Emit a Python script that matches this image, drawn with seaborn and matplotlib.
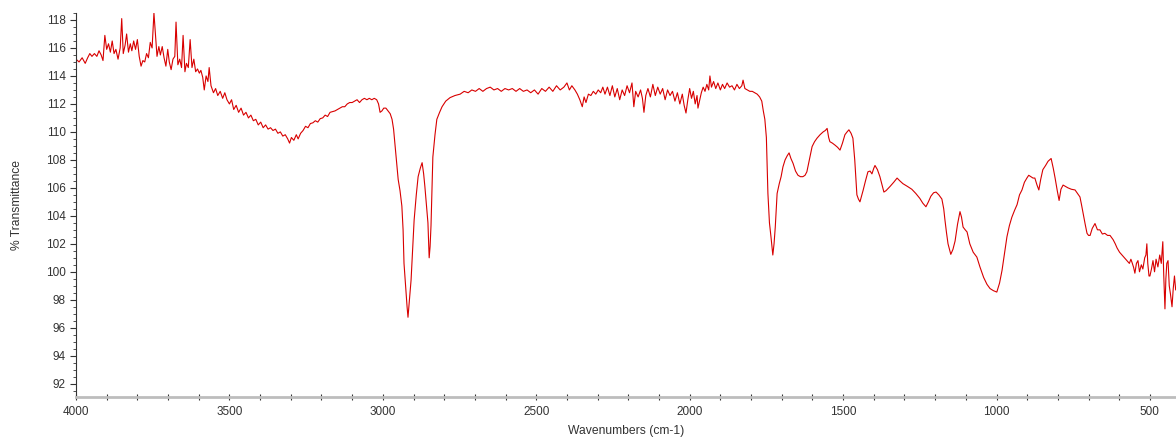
import numpy as np
import pandas as pd
import matplotlib
matplotlib.use("Agg")
import matplotlib.pyplot as plt
from matplotlib.ticker import MultipleLocator
import seaborn as sns

# IR spectrum, values
wavenumber = [
    4000, 3990, 3980, 3970, 3962, 3955, 3948, 3940, 3932, 3925, 3918, 3912, 3906, 3900,
    3894, 3888, 3882, 3876, 3870, 3863, 3856, 3851, 3846, 3840, 3835, 3829, 3823, 3818,
    3812, 3806, 3800, 3794, 3788, 3782, 3776, 3770, 3764, 3758, 3752, 3746, 3741, 3736,
    3730, 3725, 3719, 3713, 3707, 3701, 3696, 3690, 3684, 3678, 3674, 3668, 3662, 3656,
    3651, 3645, 3640, 3634, 3628, 3622, 3616, 3610, 3604, 3598, 3593, 3587, 3582, 3576,
    3570, 3566, 3560, 3552, 3545, 3538, 3530, 3522, 3515, 3508, 3500, 3493, 3486, 3478,
    3470, 3462, 3454, 3446, 3438, 3430, 3422, 3414, 3406, 3398, 3390, 3382, 3374, 3366,
    3358, 3350, 3342, 3334, 3326, 3318, 3310, 3304, 3298, 3290, 3282, 3276, 3268, 3260,
    3252, 3244, 3236, 3228, 3220, 3212, 3204, 3196, 3188, 3180, 3172, 3164, 3156, 3148,
    3140, 3132, 3124, 3116, 3108, 3100, 3092, 3084, 3076, 3068, 3060, 3052, 3044, 3036,
    3028, 3020, 3014, 3009, 3003, 2997, 2990, 2983, 2976, 2970, 2965, 2960, 2955, 2950,
    2944, 2938, 2934, 2931, 2926, 2921, 2918, 2914, 2908, 2903, 2898, 2891, 2885, 2878,
    2872, 2867, 2863, 2858, 2853, 2849, 2846, 2843, 2840, 2837, 2830, 2824, 2815, 2807,
    2795, 2781, 2765, 2748, 2735, 2722, 2710, 2698, 2686, 2674, 2662, 2650, 2638, 2626,
    2614, 2602, 2590, 2578, 2566, 2554, 2542, 2530, 2518, 2506, 2494, 2482, 2470, 2458,
    2446, 2434, 2422, 2410, 2400, 2392, 2384, 2374, 2366, 2358, 2350, 2344, 2338, 2330,
    2322, 2314, 2306, 2298, 2290, 2283, 2276, 2268, 2260, 2252, 2244, 2236, 2228, 2220,
    2212, 2204, 2196, 2188, 2182, 2176, 2168, 2160, 2154, 2149, 2143, 2136, 2128, 2120,
    2112, 2104, 2096, 2088, 2080, 2072, 2064, 2056, 2048, 2040, 2032, 2024, 2018, 2012,
    2006, 2000, 1994, 1988, 1982, 1976, 1973, 1968, 1962, 1956, 1950, 1944, 1938, 1934,
    1929, 1922, 1915, 1908, 1900, 1893, 1886, 1878, 1870, 1862, 1854, 1846, 1838, 1830,
    1826, 1820, 1812, 1804, 1796, 1788, 1780, 1772, 1765, 1760, 1755, 1750, 1745, 1740,
    1735, 1729, 1725, 1721, 1715, 1708, 1702, 1696, 1689, 1682, 1676, 1670, 1663, 1655,
    1647, 1639, 1631, 1624, 1618, 1610, 1601, 1593, 1585, 1575, 1565, 1558, 1552, 1547,
    1543, 1535, 1526, 1518, 1510, 1502, 1494, 1487, 1481, 1474, 1468, 1462, 1455, 1450,
    1445, 1440, 1435, 1427, 1419, 1412, 1406, 1400, 1396, 1388, 1380, 1373, 1367, 1360,
    1347, 1335, 1324, 1315, 1305, 1290, 1276, 1263, 1250, 1240, 1230, 1222, 1214, 1205,
    1197, 1188, 1178, 1172, 1168, 1163, 1158, 1149, 1142, 1135, 1127, 1119, 1114, 1109,
    1102, 1096, 1087, 1076, 1064, 1054, 1042, 1031, 1021, 1010, 999, 990, 982, 974,
    966, 958, 950, 941, 933, 925, 917, 909, 901, 895, 888, 881, 875, 868,
    862, 856, 849, 840, 832, 822, 815, 809, 802, 796, 790, 783, 775, 767,
    756, 744, 736, 728, 723, 718, 711, 705, 700, 695, 688, 679, 671, 663,
    655, 647, 638, 630, 620, 613, 607, 599, 591, 583, 575, 567, 562, 558,
    553, 549, 544, 539, 534, 528, 523, 517, 513, 510, 507, 503, 500, 495,
    490, 485, 480, 474, 468, 463, 458, 455, 451, 448, 445, 441, 437, 433,
    428, 424, 420, 416,
]

transmittance = [
    115.2, 115.0, 115.3, 114.9, 115.3, 115.6, 115.4, 115.6, 115.4, 115.8, 115.5, 115.1, 116.9, 115.9,
    116.3, 115.7, 116.5, 115.6, 115.9, 115.2, 116.0, 118.1, 115.6, 116.2, 117.0, 115.7, 116.3, 115.8,
    116.5, 115.9, 116.6, 115.4, 114.7, 115.1, 115.0, 115.6, 115.3, 116.4, 116.0, 118.5, 116.9, 115.4,
    116.1, 115.5, 116.1, 115.3, 114.7, 115.9, 115.0, 114.45, 115.2, 115.4, 117.85, 114.8, 115.2, 114.6,
    116.9, 114.3, 114.9, 114.6, 116.6, 114.6, 115.2, 114.3, 114.5, 114.2, 114.4, 113.9, 113.0, 114.0,
    113.6, 114.6, 113.3, 112.8, 113.1, 112.6, 112.9, 112.4, 112.8, 112.3, 112.0, 112.3, 111.6, 111.9,
    111.4, 111.7, 111.2, 111.4, 111.0, 111.2, 110.8, 110.9, 110.5, 110.7, 110.3, 110.5, 110.2, 110.3,
    110.1, 110.2, 109.9, 110.0, 109.7, 109.8, 109.5, 109.2, 109.6, 109.4, 109.8, 109.5, 109.9, 110.1,
    110.4, 110.3, 110.6, 110.65, 110.8, 110.7, 110.95, 111.0, 111.2, 111.1, 111.4, 111.45, 111.5, 111.6,
    111.7, 111.8, 111.8, 112.0, 112.1, 112.1, 112.2, 112.3, 112.1, 112.3, 112.4, 112.3, 112.4, 112.3,
    112.4, 112.3, 112.0, 111.4, 111.5, 111.7, 111.7, 111.5, 111.3, 110.9, 110.2, 109.0, 107.8, 106.6,
    105.8, 104.7, 103.0, 100.6, 99.0, 97.5, 96.75, 97.8, 99.4, 101.6, 103.7, 105.5, 106.8, 107.4,
    107.8, 107.0, 106.1, 104.8, 103.5, 101.0, 101.8, 103.3, 105.8, 108.2, 109.8, 110.9, 111.4, 111.8,
    112.2, 112.45, 112.6, 112.7, 112.9, 112.8, 113.0, 112.9, 113.1, 112.9, 113.1, 113.2, 113.0, 113.1,
    112.9, 113.1, 113.0, 113.1, 112.9, 113.1, 112.9, 113.0, 112.8, 113.0, 112.7, 113.1, 112.9, 113.2,
    112.9, 113.3, 113.0, 113.2, 113.5, 113.0, 113.3, 113.0, 112.7, 112.3, 111.8, 112.5, 112.1, 112.7,
    112.6, 112.9, 112.7, 113.0, 112.8, 113.2, 112.7, 113.2, 112.6, 113.3, 112.5, 113.1, 112.3, 113.0,
    112.6, 113.3, 112.8, 113.5, 111.8, 112.9, 112.5, 113.0, 112.4, 111.4, 112.6, 113.1, 112.5, 113.4,
    112.6, 113.2, 112.7, 113.1, 112.3, 113.0, 112.6, 112.9, 112.2, 112.8, 112.0, 112.7, 111.9, 111.35,
    112.3, 113.1, 112.4, 112.9, 112.0, 112.6, 111.7, 112.2, 112.8, 113.2, 112.9, 113.4, 113.0, 114.0,
    113.2, 113.6, 113.1, 113.5, 113.0, 113.4, 113.1, 113.5, 113.2, 113.3, 113.0, 113.4, 113.1, 113.3,
    113.7, 113.1, 113.0, 112.9, 112.9, 112.8, 112.7, 112.5, 112.2, 111.5, 110.9, 109.6, 105.6, 103.5,
    102.5, 101.2, 102.0, 103.2, 105.6, 106.3, 106.8, 107.5, 108.0, 108.3, 108.5, 108.1, 107.75, 107.2,
    106.9, 106.8, 106.8, 106.9, 107.15, 108.0, 108.95, 109.3, 109.55, 109.8, 110.0, 110.1, 110.25, 109.6,
    109.3, 109.2, 109.05, 108.9, 108.7, 109.2, 109.8, 110.0, 110.15, 109.9, 109.55, 108.0, 105.5, 105.2,
    105.0, 105.4, 105.8, 106.5, 107.15, 107.2, 107.0, 107.4, 107.6, 107.3, 106.8, 106.2, 105.7, 105.8,
    106.1, 106.4, 106.7, 106.5, 106.3, 106.1, 105.9, 105.6, 105.25, 104.9, 104.65, 105.0, 105.4, 105.65,
    105.7, 105.5, 105.2, 104.5, 103.7, 102.8, 102.0, 101.25, 101.6, 102.2, 103.4, 104.3, 103.9, 103.2,
    103.0, 102.85, 102.0, 101.4, 101.05, 100.35, 99.6, 99.1, 98.8, 98.65, 98.55, 99.2, 100.1, 101.3,
    102.5, 103.3, 103.9, 104.4, 104.8, 105.5, 105.85, 106.4, 106.7, 106.9, 106.8, 106.7, 106.7, 106.2,
    105.85, 106.6, 107.3, 107.6, 107.9, 108.1, 107.4, 106.7, 105.8, 105.1, 105.9, 106.2, 106.1, 106.0,
    105.9, 105.85, 105.6, 105.35, 104.8, 104.2, 103.4, 102.75, 102.6, 102.6, 103.1, 103.45, 103.0, 103.0,
    102.7, 102.75, 102.6, 102.6, 102.3, 102.0, 101.7, 101.4, 101.2, 101.0, 100.8, 100.6, 100.9, 100.65,
    100.3, 99.9, 100.6, 100.8, 100.0, 100.5, 100.2, 101.0, 101.2, 102.0, 100.6, 99.7, 99.7, 100.2,
    100.8, 100.0, 100.9, 100.35, 101.2, 100.6, 102.15, 99.8, 97.35, 99.5, 100.6, 100.8, 99.0, 98.4,
    97.5, 98.8, 99.7, 98.7,
]

df = pd.DataFrame({"Wavenumbers (cm-1)": wavenumber, "% Transmittance": transmittance})

sns.set_theme(style="ticks")
plt.rcParams["font.family"] = ["Liberation Sans", "DejaVu Sans"]

fig = plt.figure(figsize=(11.76, 4.38), dpi=100)
ax = fig.add_axes([76 / 1176, 41 / 438, 1100 / 1176, 384 / 438])

sns.lineplot(data=df, x="Wavenumbers (cm-1)", y="% Transmittance", ax=ax,
             color="#d80000", linewidth=0.8, sort=False, estimator=None)

ax.set_xlim(4000, 415)
ax.set_ylim(91.05, 118.5)

ax.xaxis.set_major_locator(MultipleLocator(500))
ax.xaxis.set_minor_locator(MultipleLocator(100))
ax.yaxis.set_major_locator(MultipleLocator(2))
ax.yaxis.set_minor_locator(MultipleLocator(0.5))

ax.tick_params(axis="both", which="major", labelsize=8.5, colors="#333333", length=4, width=0.8)
ax.tick_params(axis="x", which="major", direction="inout", length=5, pad=4)
ax.tick_params(axis="x", which="minor", direction="inout", length=4, width=0.8, color="#333333")
ax.tick_params(axis="y", which="minor", length=2, width=0.6, color="#333333")

for s in ["top", "right"]:
    ax.spines[s].set_visible(False)
ax.spines["left"].set_color("#333333")
ax.spines["left"].set_linewidth(0.8)
ax.spines["bottom"].set_color("#bdbdbd")
ax.spines["bottom"].set_linewidth(2)

ax.set_xlabel("Wavenumbers (cm-1)", fontsize=8.7, color="#333333", labelpad=5)
ax.set_ylabel("% Transmittance", fontsize=8.7, color="#333333", labelpad=16)

fig.savefig("out.png", dpi=100)
